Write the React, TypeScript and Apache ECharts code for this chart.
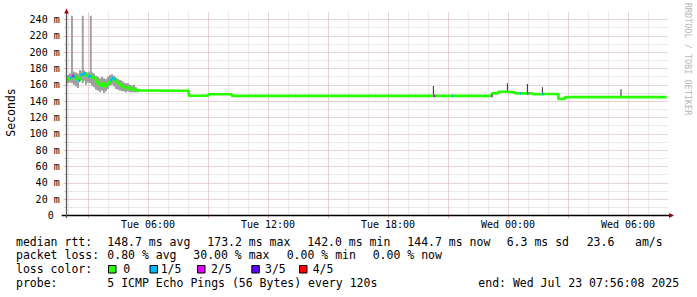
import React, { useEffect, useRef } from "react";
import * as echarts from "echarts";

// time values are hours since Tue 00:00 (Wed = 24+)
const START_H = 1.936; // Tue 01:56:08
const END_H = 31.936; // Wed 07:56:08
const Y_MAX = 245;

const medianTimes = [
  1.936, 2.0, 2.1, 2.2, 2.3, 2.4, 2.5, 2.6, 2.7, 2.8, 2.9, 3.0, 3.1, 3.2, 3.3, 3.4, 3.5, 3.6, 3.7, 3.8, 3.9,
  4.0, 4.1, 4.2, 4.3, 4.4, 4.5, 4.6, 4.7, 4.8, 4.9, 5.0, 5.1, 5.2, 5.3, 5.4, 5.5,
  8.04, 9.02, 10.19, 20.27, 20.37, 21.2, 21.25, 23.17, 23.2, 23.5, 23.95, 24.35, 24.6, 24.65, 24.95, 25.0,
  25.25, 25.7, 25.8, 26.52, 26.85, 31.936,
];
const medianValues = [
  166, 167, 169, 171, 170, 167, 165, 172, 173, 174, 171, 170, 171, 169, 168, 164, 161, 159, 162, 158, 160,
  163, 166, 168, 167, 164, 161, 160, 158, 157, 156, 157, 155, 154, 155, 153, 152.8,
  146.6, 148.4, 146.5, 146.5, 146.5, 146.5, 146.5, 146.5, 149.6, 151.6, 150.8, 149.6, 149.6, 149.6, 149.6, 149.6,
  148.4, 148.8, 148.8, 142.8, 145.0, 145.0,
];
// lost pings out of 5 for each step
const medianLoss = [
  0, 0, 1, 2, 1, 0, 1, 1, 1, 1, 0, 1, 1, 0, 0, 0, 0, 0, 0, 0, 0,
  0, 1, 1, 1, 0, 0, 0, 0, 0, 0, 0, 0, 0, 0, 0, 0,
  0, 0, 0, 2, 0, 1, 0, 2, 0, 0, 0, 0, 1, 0, 2, 0,
  0, 1, 0, 0, 0, 0,
];

// smoke (ping spread): kind 0 = band, 1 = tall spike, 2 = dark spike
const smokeTimes = [
  2.0, 2.1, 2.2, 2.3, 2.4, 2.5, 2.6, 2.7, 2.8, 2.9, 3.0, 3.1, 3.2, 3.3, 3.4, 3.5, 3.6, 3.7, 3.8, 3.9,
  4.0, 4.1, 4.2, 4.3, 4.4, 4.5, 4.6, 4.7, 4.8, 4.9, 5.0, 5.1, 5.2, 5.3, 5.4, 5.5,
  2.2, 2.74, 3.14,
  20.27, 23.97, 24.97, 25.72, 29.65,
];
const smokeLow = [
  162, 163, 164, 160, 158, 156, 165, 166, 165, 160, 163, 162, 159, 157, 154, 153, 151, 153, 150, 152,
  155, 159, 160, 158, 155, 154, 153, 152, 152, 151, 152, 151, 151, 151, 151, 151,
  162, 162, 162,
  146.5, 150, 149, 148, 145,
];
const smokeHigh = [
  172, 174, 176, 176, 175, 174, 178, 177, 178, 176, 175, 176, 175, 174, 171, 170, 168, 170, 168, 167,
  170, 172, 173, 171, 169, 167, 166, 165, 163, 162, 162, 160, 159, 160, 157, 155,
  300, 300, 300,
  158.6, 162, 161, 157, 154.5,
];
const smokeKind = [
  0, 0, 0, 0, 0, 0, 0, 0, 0, 0, 0, 0, 0, 0, 0, 0, 0, 0, 0, 0,
  0, 0, 0, 0, 0, 0, 0, 0, 0, 0, 0, 0, 0, 0, 0, 0,
  1, 1, 1,
  2, 2, 2, 2, 2,
];

const lossLabels = ["0", "1/5", "2/5", "3/5", "4/5"];
const lossColors = ["#26ff00", "#00b8ff", "#dd00ff", "#5e00ff", "#ff0000"];
const smokeColors = ["#9e9e9e", "#a2a2a2", "#2a2a2a"];

const legendLines: { y: number; items: [number, string][] }[] = [
  {
    y: 241.7,
    items: [
      [16, "median rtt:"],
      [107.3, "148.7 ms avg"],
      [207.3, "173.2 ms max"],
      [307.3, "142.0 ms min"],
      [407.3, "144.7 ms now"],
      [506.7, "6.3 ms sd"],
      [586.7, "23.6"],
      [635, "am/s"],
    ],
  },
  {
    y: 255,
    items: [
      [16, "packet loss:"],
      [107.3, "0.80 % avg"],
      [193.3, "30.00 % max"],
      [286.7, "0.00 % min"],
      [372.7, "0.00 % now"],
    ],
  },
  { y: 269.3, items: [[16, "loss color:"]] },
  {
    y: 282.7,
    items: [
      [16, "probe:"],
      [107.3, "5 ICMP Echo Pings (56 Bytes) every 120s"],
      [478.3, "end: Wed Jul 23 07:56:08 2025"],
    ],
  },
];
const lossBoxX = [108, 149.5, 197, 251.3, 299];
const lossTextX = [123.3, 160.7, 211, 265, 312.7];

const MONO = "DejaVu Sans Mono";
const PLOT_LEFT = 66.7;
const PX_PER_H = 20;
const Y0 = 215.5;
const PX_PER_UNIT = 196 / 240;

function hourLabel(h: number): string {
  const day = h < 24 ? "Tue" : "Wed";
  const hh = h % 24;
  return `${day} ${String(hh).padStart(2, "0")}:00`;
}

export default function App() {
  const ref = useRef<HTMLDivElement>(null);
  useEffect(() => {
    if (!ref.current) return;
    const chart = echarts.init(ref.current, null, { renderer: "svg" });

    const smokeData = smokeTimes.map((t, i) => [t, smokeLow[i], smokeHigh[i], smokeKind[i]]);
    const medianData = medianTimes.map((t, i) => [t, medianValues[i]]);
    const lossData: number[][] = [];
    for (let i = 0; i < medianTimes.length - 1; i++) {
      if (medianLoss[i] > 0) lossData.push([medianTimes[i], medianTimes[i + 1], medianValues[i], medianLoss[i]]);
    }

    const minorColor = "#d4d4d4";
    const majorColor = "#eab8b8";
    const dot = [1, 1];

    const dataTop = Y0 - Y_MAX * PX_PER_UNIT;
    const vTop = 12.5;

    const graphic: any[] = [];
    graphic.push({
      type: "line",
      shape: { x1: 61.7, y1: 215.5, x2: 669, y2: 215.5 },
      style: { stroke: "#000", lineWidth: 1.4 },
      z: 10,
    });
    graphic.push({
      type: "line",
      shape: { x1: 66.5, y1: 218, x2: 66.5, y2: 12 },
      style: { stroke: "#5a5a5a", lineWidth: 1.3 },
      z: 10,
    });
    graphic.push({
      type: "polygon",
      shape: { points: [[64.2, 13.5], [68.8, 13.5], [66.5, 8.5]] },
      style: { fill: "#a00000" },
      z: 11,
    });
    graphic.push({
      type: "polygon",
      shape: { points: [[669, 213], [669, 218], [674, 215.5]] },
      style: { fill: "#a00000" },
      z: 11,
    });
    graphic.push({
      type: "text",
      x: 10.5,
      y: 112.5,
      rotation: Math.PI / 2,
      style: { text: "Seconds", fontFamily: MONO, fontSize: 11.5, fill: "#000", align: "center", verticalAlign: "middle" },
    });
    graphic.push({
      type: "text",
      x: 688,
      y: 59,
      rotation: -Math.PI / 2,
      style: {
        text: "RRDTOOL / TOBI OETIKER",
        fontFamily: MONO,
        fontSize: 8.5,
        fill: "#b8b8b8",
        align: "center",
        verticalAlign: "middle",
      },
    });
    legendLines.forEach((ln) => {
      ln.items.forEach(([x, text]) => {
        graphic.push({
          type: "text",
          x,
          y: ln.y,
          style: { text, fontFamily: MONO, fontSize: 11.5, fill: "#000", align: "left", verticalAlign: "middle" },
        });
      });
    });
    lossLabels.forEach((lab, i) => {
      graphic.push({
        type: "rect",
        shape: { x: lossBoxX[i] + 0.5, y: 265.5, width: 7.5, height: 7.5 },
        style: { fill: lossColors[i], stroke: "#000", lineWidth: 1 },
      });
      graphic.push({
        type: "text",
        x: lossTextX[i],
        y: 269.3,
        style: { text: lab, fontFamily: MONO, fontSize: 11.5, fill: "#000", align: "left", verticalAlign: "middle" },
      });
    });

    const hidden = { show: false };
    const option: any = {
      animation: false,
      backgroundColor: "#fff",
      grid: [
        { left: PLOT_LEFT, top: dataTop, width: 600, height: Y_MAX * PX_PER_UNIT, outerBoundsMode: "none", containLabel: false },
        { left: PLOT_LEFT, top: Y0 - 196, width: 601, height: 196, outerBoundsMode: "none", containLabel: false },
        {
          left: PLOT_LEFT + (2 - START_H) * PX_PER_H,
          top: vTop,
          width: 29 * PX_PER_H,
          height: Y0 - vTop,
          outerBoundsMode: "none",
          containLabel: false,
        },
        {
          left: PLOT_LEFT + (3 - START_H) * PX_PER_H,
          top: vTop,
          width: 27 * PX_PER_H,
          height: Y0 - vTop,
          outerBoundsMode: "none",
          containLabel: false,
        },
      ],
      xAxis: [
        { type: "value", gridIndex: 0, min: START_H, max: END_H, ...hidden },
        { type: "value", gridIndex: 1, min: 0, max: 1, ...hidden },
        {
          type: "value",
          gridIndex: 2,
          position: "bottom",
          min: 2,
          max: 31,
          interval: 1,
          axisLine: { show: false },
          axisTick: { show: false },
          axisLabel: { show: false },
          splitLine: { show: true, lineStyle: { color: minorColor, type: dot, width: 1 } },
        },
        {
          type: "value",
          gridIndex: 3,
          position: "bottom",
          min: 3,
          max: 30,
          interval: 3,
          axisLine: { show: false },
          axisTick: { show: true, length: 3, lineStyle: { color: majorColor } },
          axisLabel: {
            show: true,
            margin: 4,
            fontFamily: MONO,
            fontSize: 10,
            color: "#000",
            formatter: (v: number) => (v % 6 === 0 ? hourLabel(v) : ""),
          },
          splitLine: { show: true, lineStyle: { color: majorColor, type: dot, width: 1 } },
        },
      ],
      yAxis: [
        { type: "value", gridIndex: 0, min: 0, max: Y_MAX, ...hidden },
        {
          type: "value",
          gridIndex: 1,
          position: "left",
          min: 0,
          max: 240,
          interval: 10,
          axisLine: { show: false },
          axisTick: { show: true, length: 3, lineStyle: { color: minorColor } },
          axisLabel: { show: false },
          splitLine: { show: true, lineStyle: { color: minorColor, type: dot, width: 1 } },
        },
        {
          type: "value",
          gridIndex: 1,
          position: "left",
          offset: 0,
          min: 0,
          max: 240,
          interval: 20,
          axisLine: { show: false },
          axisTick: { show: true, length: 3, lineStyle: { color: majorColor } },
          axisLabel: {
            show: true,
            margin: 7,
            fontFamily: MONO,
            fontSize: 10,
            color: "#000",
            formatter: (v: number) => (v === 0 ? "0\u00a0" : `${v} m`),
          },
          splitLine: { show: true, lineStyle: { color: majorColor, type: dot, width: 1 } },
        },
        { type: "value", gridIndex: 2, min: 0, max: 1, ...hidden },
        { type: "value", gridIndex: 3, min: 0, max: 1, ...hidden },
      ],
      series: [
        {
          type: "custom",
          xAxisIndex: 0,
          yAxisIndex: 0,
          clip: true,
          z: 3,
          data: smokeData,
          renderItem: (params: any, api: any) => {
            const t = api.value(0);
            const lo = api.value(1);
            const hi = Math.min(api.value(2), Y_MAX);
            const kind = api.value(3);
            const w = kind === 2 ? 0.05 : 0.1;
            const a = api.coord([t - w / 2, hi]);
            const b = api.coord([t + w / 2, lo]);
            return {
              type: "rect",
              shape: { x: a[0], y: a[1], width: b[0] - a[0], height: b[1] - a[1] },
              style: { fill: smokeColors[kind] },
            };
          },
        },
        {
          type: "line",
          xAxisIndex: 0,
          yAxisIndex: 0,
          z: 4,
          step: "end",
          showSymbol: false,
          data: medianData,
          lineStyle: { color: lossColors[0], width: 2.6 },
        },
        {
          type: "custom",
          xAxisIndex: 0,
          yAxisIndex: 0,
          z: 5,
          data: lossData,
          renderItem: (params: any, api: any) => {
            const a = api.coord([api.value(0), api.value(2)]);
            const b = api.coord([api.value(1), api.value(2)]);
            return {
              type: "rect",
              shape: { x: a[0], y: a[1] - 1.3, width: Math.max(b[0] - a[0], 1.5), height: 2.6 },
              style: { fill: lossColors[api.value(3)] },
            };
          },
        },
      ],
      graphic,
    };
    chart.setOption(option);
    return () => chart.dispose();
  }, []);
  return <div ref={ref} style={{ position: "fixed", left: 0, top: 0, width: 697, height: 297 }} />;
}
